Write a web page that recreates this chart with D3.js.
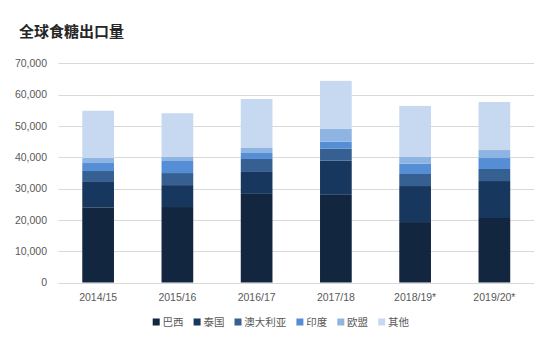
<!DOCTYPE html>
<html><head><meta charset="utf-8">
<script src="https://cdn.jsdelivr.net/npm/d3@7"></script>
<style>body{margin:0;background:#fff;}svg{display:block;}</style>
</head><body>
<script>
const categories = ["2014/15","2015/16","2016/17","2017/18","2018/19*","2019/20*"];
const seriesNames = ["巴西","泰国","澳大利亚","印度","欧盟","其他"];
const brazil    = [24000, 24100, 28300, 28000, 19300, 20600];
const thailand  = [8100, 7000, 7000, 10900, 11500, 11800];
const australia = [3500, 3850, 4150, 3850, 3850, 3850];
const india     = [2550, 3850, 1900, 2250, 3300, 3500];
const eu        = [1600, 1300, 1600, 4050, 2150, 2550];
const other     = [15100, 13950, 15650, 15350, 16300, 15350];
const yTicks = [0,10000,20000,30000,40000,50000,60000,70000];
const colors = ["#13263f","#17375e","#376092","#558ed5","#8eb4e3","#c6d9f1"];

const W=554,H=357;
const svg=d3.select("body").append("svg").attr("width",W).attr("height",H);
const font="'Noto Sans CJK SC','Noto Sans',sans-serif";

svg.append("text").attr("x",19).attr("y",36.5).text("全球食糖出口量")
  .attr("font-family",font).attr("font-size",15).attr("font-weight",700).attr("fill","#262626");

const x=d3.scaleBand().domain(categories).range([58.5,534]).paddingInner(0.6).paddingOuter(0.3);
const y=d3.scaleLinear().domain([0,70000]).range([282.5,63.3]);

const grid=svg.append("g");
grid.selectAll("line").data(yTicks).join("line")
  .attr("x1",58.5).attr("x2",534).attr("y1",d=>Math.round(y(d))+0.5).attr("y2",d=>Math.round(y(d))+0.5)
  .attr("stroke","#d9d9d9").attr("stroke-width",1);

const yAxis=d3.axisLeft(y).tickValues(yTicks).tickFormat(d3.format(",")).tickSize(0).tickPadding(0);
const ga=svg.append("g").attr("transform","translate(47,0)").call(yAxis);
ga.select(".domain").remove();
ga.selectAll("text").attr("font-family","'Liberation Sans',Arial,sans-serif").attr("font-size",10.5).attr("fill","#595959");

const xAxis=d3.axisBottom(x).tickSize(0).tickPadding(0);
const gx=svg.append("g").attr("transform","translate(0,293.5)").call(xAxis);
gx.select(".domain").remove();
gx.selectAll("text").attr("font-family","'Liberation Sans',Arial,sans-serif").attr("font-size",10.5).attr("fill","#595959");

const table=categories.map((c,i)=>({cat:c,s0:brazil[i],s1:thailand[i],s2:australia[i],s3:india[i],s4:eu[i],s5:other[i]}));
const keys=["s0","s1","s2","s3","s4","s5"];
const stacked=d3.stack().keys(keys)(table);
svg.append("g").selectAll("g").data(stacked).join("g").attr("fill",(d,i)=>colors[i])
  .selectAll("rect").data(d=>d).join("rect")
  .attr("x",d=>x(d.data.cat)).attr("width",x.bandwidth())
  .attr("y",d=>y(d[1])).attr("height",d=>y(d[0])-y(d[1]));

// legend
const lg=svg.append("g");
let lx=152.7;
seriesNames.forEach((n,i)=>{
  lg.append("rect").attr("x",lx).attr("y",318.5).attr("width",7).attr("height",7).attr("fill",colors[i]);
  lg.append("text").attr("x",lx+9.8).attr("y",325.5).text(n)
    .attr("font-family",font).attr("font-size",10.5).attr("fill","#595959");
  lx += 10 + n.length*10.5 + 9.9;
});
</script>
</body></html>
